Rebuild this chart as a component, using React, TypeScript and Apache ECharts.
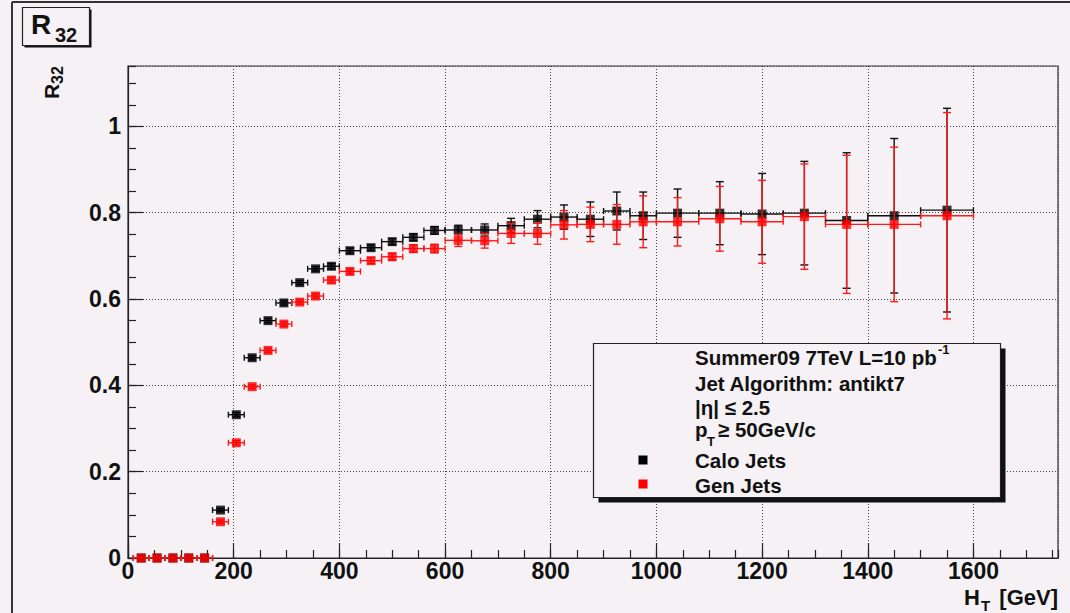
import React, { useEffect, useRef } from "react";
import * as echarts from "echarts";

// H_T bin edges [GeV]
const binLow = [10, 40, 70, 100, 130, 160, 190, 220, 250, 280, 310, 340, 370, 400, 440, 480, 520, 560, 600, 650, 700, 750, 800, 850, 900, 950, 1000, 1080, 1160, 1240, 1320, 1400, 1500];
const binHigh = [40, 70, 100, 130, 160, 190, 220, 250, 280, 310, 340, 370, 400, 440, 480, 520, 560, 600, 650, 700, 750, 800, 850, 900, 950, 1000, 1080, 1160, 1240, 1320, 1400, 1500, 1600];

// R32 for calorimeter jets
const caloR32 = [0, 0, 0, 0, 0, 0.111, 0.332, 0.464, 0.55, 0.591, 0.638, 0.67, 0.676, 0.712, 0.719, 0.733, 0.743, 0.759, 0.76, 0.76, 0.77, 0.785, 0.79, 0.785, 0.804, 0.793, 0.799, 0.799, 0.797, 0.799, 0.782, 0.793, 0.806];
const caloErr = [0, 0, 0, 0, 0, 0.004, 0.005, 0.005, 0.005, 0.005, 0.005, 0.005, 0.006, 0.006, 0.006, 0.007, 0.008, 0.009, 0.011, 0.014, 0.017, 0.02, 0.028, 0.04, 0.044, 0.055, 0.056, 0.073, 0.094, 0.12, 0.157, 0.179, 0.236];

// R32 for generator-level jets
const genR32 = [0, 0, 0, 0, 0, 0.084, 0.267, 0.397, 0.481, 0.542, 0.593, 0.607, 0.644, 0.664, 0.689, 0.698, 0.717, 0.717, 0.736, 0.735, 0.752, 0.752, 0.772, 0.773, 0.773, 0.779, 0.779, 0.786, 0.779, 0.791, 0.773, 0.773, 0.793];
const genErr = [0, 0, 0, 0, 0, 0.004, 0.005, 0.005, 0.005, 0.005, 0.005, 0.005, 0.006, 0.006, 0.007, 0.008, 0.009, 0.01, 0.014, 0.017, 0.023, 0.025, 0.033, 0.04, 0.046, 0.06, 0.056, 0.075, 0.096, 0.122, 0.16, 0.179, 0.239];

const legendLines = ["Jet Algorithm: antikt7", "|η| ≤ 2.5"];

const BG = "#f5f1f5";
const FONT = "'Liberation Sans', Arial, Helvetica, sans-serif";

function buildRows(vals: number[], errs: number[]) {
  return vals.map((v, i) => [(binLow[i] + binHigh[i]) / 2, v, binLow[i], binHigh[i], errs[i]]);
}

function errorBarRenderer(color: string) {
  return (_params: any, api: any) => {
    const x = api.value(0);
    const y = api.value(1);
    const lo = api.value(2);
    const hi = api.value(3);
    const e = api.value(4);
    const pL = api.coord([lo, y]);
    const pR = api.coord([hi, y]);
    const style = { stroke: color, lineWidth: 1.4, fill: null };
    const hCap = 3;
    const vCap = 4;
    const children: any[] = [
      { type: "line", shape: { x1: pL[0], y1: pL[1], x2: pR[0], y2: pR[1] }, style },
      { type: "line", shape: { x1: pL[0], y1: pL[1] - hCap, x2: pL[0], y2: pL[1] + hCap }, style },
      { type: "line", shape: { x1: pR[0], y1: pR[1] - hCap, x2: pR[0], y2: pR[1] + hCap }, style },
    ];
    if (e > 0) {
      const pT = api.coord([x, y + e]);
      const pB = api.coord([x, y - e]);
      children.push(
        { type: "line", shape: { x1: pT[0], y1: pT[1], x2: pB[0], y2: pB[1] }, style },
        { type: "line", shape: { x1: pT[0] - vCap, y1: pT[1], x2: pT[0] + vCap, y2: pT[1] }, style },
        { type: "line", shape: { x1: pB[0] - vCap, y1: pB[1], x2: pB[0] + vCap, y2: pB[1] }, style }
      );
    }
    return { type: "group", children };
  };
}

function txt(x: number, y: number, text: string, size: number, align = "left", extra: any = {}) {
  return {
    type: "text",
    x,
    y,
    z: 100,
    ...extra,
    style: {
      text,
      fontFamily: FONT,
      fontWeight: "bold",
      fontSize: size,
      lineHeight: Math.round(size * 0.9),
      fill: "#111",
      align,
      textAlign: align,
      verticalAlign: "middle",
      textVerticalAlign: "middle",
    },
  };
}

export default function App() {
  const ref = useRef<HTMLDivElement>(null);

  useEffect(() => {
    if (!ref.current) return;
    const chart = echarts.init(ref.current, undefined, { renderer: "svg" });
    const calo = buildRows(caloR32, caloErr);
    const gen = buildRows(genR32, genErr);

    const labelStyle = {
      fontFamily: FONT,
      fontWeight: "bold" as const,
      fontSize: 23,
      lineHeight: 18,
      color: "#111",
      formatter: (v: number) => String(Math.round(v * 100) / 100),
    };

    chart.setOption({
      animation: false,
      backgroundColor: BG,
      grid: { left: 128, top: 66, right: 12, bottom: 55, show: true, borderColor: "#333", borderWidth: 1.2, backgroundColor: "transparent" },
      xAxis: [
        {
          type: "value",
          min: 0,
          max: 1760,
          interval: 200,
          axisLine: { show: true, onZero: false, lineStyle: { color: "#222", width: 1.2 } },
          axisTick: { inside: true, length: 15, lineStyle: { color: "#222", width: 1.2 } },
          splitLine: { show: true, lineStyle: { color: "#444", width: 1, type: [1, 2] } },
          axisLabel: { ...labelStyle, margin: 4, showMaxLabel: false },
        },
        {
          type: "value",
          min: 0,
          max: 1760,
          interval: 50,
          position: "bottom",
          axisLine: { show: false },
          axisTick: { inside: true, length: 8, lineStyle: { color: "#222", width: 1.2 } },
          splitLine: { show: false },
          axisLabel: { show: false },
        },
      ],
      yAxis: [
        {
          type: "value",
          min: 0,
          max: 1.14,
          interval: 0.2,
          axisLine: { show: true, onZero: false, lineStyle: { color: "#222", width: 1.2 } },
          axisTick: { inside: true, length: 15, lineStyle: { color: "#222", width: 1.2 } },
          splitLine: { show: true, lineStyle: { color: "#444", width: 1, type: [1, 2] } },
          axisLabel: { ...labelStyle, margin: 7, showMaxLabel: false },
        },
        {
          type: "value",
          min: 0,
          max: 1.14,
          interval: 0.05,
          position: "left",
          axisLine: { show: false },
          axisTick: { inside: true, length: 8, lineStyle: { color: "#222", width: 1.2 } },
          splitLine: { show: false },
          axisLabel: { show: false },
        },
      ],
      series: [
        {
          name: "Calo Jets bars",
          type: "custom",
          xAxisIndex: 0,
          yAxisIndex: 0,
          data: calo,
          encode: { x: 0, y: 1 },
          renderItem: errorBarRenderer("#111"),
          z: 2,
        },
        {
          name: "Calo Jets",
          type: "scatter",
          xAxisIndex: 0,
          yAxisIndex: 0,
          symbol: "rect",
          symbolSize: 9,
          itemStyle: { color: "#000" },
          data: calo.map((r) => [r[0], r[1]]),
          z: 3,
        },
        {
          name: "Gen Jets bars",
          type: "custom",
          xAxisIndex: 0,
          yAxisIndex: 0,
          data: gen,
          encode: { x: 0, y: 1 },
          renderItem: errorBarRenderer("#ff1a1a"),
          z: 4,
        },
        {
          name: "Gen Jets",
          type: "scatter",
          xAxisIndex: 0,
          yAxisIndex: 0,
          symbol: "rect",
          symbolSize: 9,
          itemStyle: { color: "#ff0000" },
          data: gen.map((r) => [r[0], r[1]]),
          z: 5,
        },
      ],
      graphic: [
        // canvas frame
        { type: "line", z: 100, shape: { x1: 12, y1: 2, x2: 1070, y2: 2 }, style: { stroke: "#333", lineWidth: 2 } },
        { type: "line", z: 100, shape: { x1: 12, y1: 2, x2: 12, y2: 613 }, style: { stroke: "#333", lineWidth: 2 } },
        // title box
        { type: "rect", z: 99, shape: { x: 24.5, y: 9.5, width: 67, height: 38 }, style: { fill: "#111" } },
        { type: "rect", z: 100, shape: { x: 22.5, y: 7.5, width: 67, height: 38 }, style: { fill: BG, stroke: "#222", lineWidth: 1.2 } },
        txt(31, 24, "R", 28),
        txt(55, 35, "32", 20),
        // y axis title (rotated)
        {
          type: "group",
          x: 51,
          y: 99,
          rotation: Math.PI / 2,
          z: 100,
          children: [txt(0, 0, "R", 21), txt(15, 6, "32", 16)],
        },
        // x axis title
        txt(964, 597, "H", 22),
        txt(981, 605, "T", 15),
        txt(1058, 597, "[GeV]", 22, "right"),
        // legend box
        { type: "rect", z: 99, shape: { x: 598.5, y: 348.5, width: 407, height: 154 }, style: { fill: "#111" } },
        { type: "rect", z: 100, shape: { x: 593.5, y: 343.5, width: 407, height: 154 }, style: { fill: BG, stroke: "#222", lineWidth: 1.2 } },
        txt(695, 357, "Summer09 7TeV L=10 pb", 20.5),
        txt(938, 349, "-1", 13),
        txt(695, 383, legendLines[0], 20.5),
        txt(695, 407, legendLines[1], 20.5),
        txt(695, 429, "p", 20.5),
        txt(707, 441, "T", 13),
        txt(718, 429, "≥ 50GeV/c", 20.5),
        { type: "rect", z: 101, shape: { x: 638.5, y: 455.5, width: 9, height: 9 }, style: { fill: "#000" } },
        txt(695, 460, "Calo Jets", 20.5),
        { type: "rect", z: 101, shape: { x: 638.5, y: 479.5, width: 9, height: 9 }, style: { fill: "#ff0000" } },
        txt(695, 485, "Gen Jets", 20.5),
      ],
    });

    return () => chart.dispose();
  }, []);

  return (
    <div
      ref={ref}
      style={{ position: "fixed", left: 0, top: 0, width: 1070, height: 613, background: BG }}
    />
  );
}
